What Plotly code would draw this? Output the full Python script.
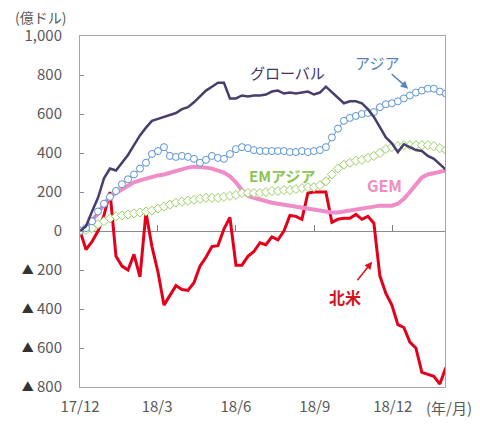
import pandas as pd
import plotly.graph_objects as go

# weekly cumulative flows since 17/12 (億ドル)
weeks = pd.date_range('2017-12-01', periods=62, freq='7D')

global_flow = [0, 25, 100, 170, 270, 320, 310, 350, 390, 440,
               490, 530, 565, 575, 585, 595, 605, 625, 635, 660,
               690, 720, 740, 760, 760, 680, 680, 695, 690, 695,
               695, 700, 715, 720, 705, 710, 705, 710, 715, 700,
               710, 740, 710, 680, 655, 665, 665, 655, 625, 585,
               530, 480, 450, 405, 445, 430, 415, 410, 385, 370,
               345, 315]
asia = [0, 15, 50, 100, 140, 175, 205, 240, 265, 290,
        320, 350, 395, 410, 430, 385, 380, 385, 380, 370,
        350, 365, 385, 375, 370, 395, 420, 430, 425, 415,
        410, 410, 410, 410, 410, 405, 405, 410, 405, 410,
        415, 430, 480, 525, 565, 580, 590, 600, 605, 610,
        635, 650, 655, 665, 680, 695, 710, 720, 730, 730,
        715, 705]
em_asia = [0, 5, 15, 35, 50, 65, 75, 80, 85, 90,
           95, 100, 105, 115, 125, 135, 145, 150, 155, 160,
           165, 170, 170, 170, 175, 180, 185, 195, 195, 195,
           195, 200, 205, 205, 210, 210, 215, 220, 225, 225,
           235, 255, 290, 320, 340, 350, 360, 365, 375, 385,
           400, 420, 430, 435, 440, 440, 440, 440, 440, 435,
           425, 415]
gem = [0, 20, 55, 90, 140, 175, 195, 215, 235, 250,
       260, 270, 280, 285, 290, 300, 305, 315, 325, 330,
       330, 325, 320, 310, 300, 280, 250, 210, 180, 170,
       160, 150, 145, 140, 135, 130, 125, 120, 120, 115,
       110, 105, 95, 95, 100, 110, 115, 120, 120, 125,
       130, 130, 130, 140, 165, 200, 240, 275, 290, 295,
       305, 310]
north_america = [0, -95, -55, 0, 80, 200, -130, -180, -200, -120,
                 -235, 95, -80, -210, -380, -330, -280, -300, -305, -265,
                 -180, -135, -80, -75, 10, 70, -175, -175, -130, -105,
                 -60, -70, -30, -45, 0, 80, 75, 60, 195, 200,
                 200, 200, 45, 60, 65, 65, 85, 60, 75, 40,
                 -230, -320, -380, -480, -495, -570, -600, -725, -735, -745,
                 -785, -700]

x_tickvals = ['2017-12-01', '2018-03-01', '2018-06-01', '2018-09-01', '2018-12-01']
x_ticktext = ['17/12', '18/3', '18/6', '18/9', '18/12']
y_tickvals = [1000, 800, 600, 400, 200, 0, -200, -400, -600, -800]
y_ticktext = ['1,000', '800', '600', '400', '200', '0',
              '<span style="font-size:12px;color:#333333">▲</span> 200',
              '<span style="font-size:12px;color:#333333">▲</span> 400',
              '<span style="font-size:12px;color:#333333">▲</span> 600',
              '<span style="font-size:12px;color:#333333">▲</span> 800']

FONT = 'Noto Sans CJK JP'
GRAY = '#595959'
x_range = ['2017-12-01', '2019-01-31']

fig = go.Figure()
fig.add_trace(go.Scatter(x=weeks, y=north_america, mode='lines',
                         line=dict(color='#E3001B', width=3)))
fig.add_trace(go.Scatter(x=weeks, y=gem, mode='lines',
                         line=dict(color='#F08CC8', width=4)))
fig.add_trace(go.Scatter(x=weeks, y=em_asia, mode='lines+markers',
                         line=dict(color='#9BCF63', width=1),
                         marker=dict(symbol='diamond', size=7, color='white',
                                     line=dict(color='#9BCF63', width=1))))
fig.add_trace(go.Scatter(x=weeks, y=asia, mode='lines+markers',
                         line=dict(color='#5B93CF', width=1),
                         marker=dict(symbol='circle', size=7, color='white',
                                     line=dict(color='#5B93CF', width=1))))
fig.add_trace(go.Scatter(x=weeks, y=global_flow, mode='lines',
                         line=dict(color='#483D6B', width=2.5)))
# hidden trace so the zero-line tick axis gets drawn
fig.add_trace(go.Scatter(x=weeks, y=north_america, xaxis='x2', mode='lines',
                         line=dict(width=0), opacity=0, hoverinfo='skip'))

# page body has an 8px margin, so the figure is shrunk by that much
fig.update_layout(
    width=472, height=419,
    margin=dict(l=72, r=35, t=28, b=40),
    paper_bgcolor='white', plot_bgcolor='white',
    showlegend=False,
    font=dict(family=FONT, color=GRAY),
    xaxis=dict(type='date', range=x_range, tickvals=x_tickvals, ticktext=x_ticktext,
               showgrid=False, zeroline=False, showline=True, mirror=True,
               linecolor='#A6A6A6', linewidth=1, ticks='', automargin=False,
               ticklabelstandoff=6, tickfont=dict(size=15, color=GRAY)),
    xaxis2=dict(type='date', range=x_range, overlaying='x', anchor='free',
                position=800 / 1800, side='top', tickvals=x_tickvals[1:],
                ticks='outside', ticklen=6, tickcolor='#7F7F7F', tickwidth=1,
                automargin=False,
                showticklabels=False, showgrid=False, showline=False, zeroline=False),
    yaxis=dict(range=[-800, 1000], tickvals=y_tickvals, ticktext=y_ticktext,
               showgrid=False, zeroline=True, zerolinecolor='#8C8C8C', zerolinewidth=1,
               showline=True, mirror=True, linecolor='#A6A6A6', linewidth=1,
               ticks='inside', ticklen=4, tickcolor='#8C8C8C', automargin=False,
               ticklabelstandoff=14, tickfont=dict(size=15, color=GRAY)),
)

annotations = [
    dict(x='2018-07-31', y=811, text='グローバル', font=dict(size=15, color='#3F3566')),
    dict(x='2018-11-13', y=862, text='アジア', font=dict(size=15, color='#5683BF')),
    dict(x='2018-07-25', y=286, text='<b>EMアジア</b>', font=dict(size=15, color='#8DC456')),
    dict(x='2018-11-21', y=235, text='<b>GEM</b>', font=dict(size=16, color='#F08CC0')),
    dict(x='2018-10-06', y=-337, text='<b>北米</b>', font=dict(size=16, color='#D7141E')),
]
for a in annotations:
    fig.add_annotation(showarrow=False, xref='x', yref='y', **a)

fig.add_annotation(x='2018-12-19', y=730, text='', showarrow=True, axref='pixel', ayref='pixel',
                   ax=-18, ay=-16, arrowhead=2, arrowsize=1, arrowwidth=1.5,
                   arrowcolor='#5683BF')
fig.add_annotation(x='2018-11-07', y=-158, text='', showarrow=True, axref='pixel', ayref='pixel',
                   ax=-16, ay=20, arrowhead=2, arrowsize=1, arrowwidth=1.5,
                   arrowcolor='#D7141E')

fig.add_annotation(x=(40 - 80) / 365, y=(387 - 17) / 351, xref='paper', yref='paper',
                   xanchor='center', yanchor='middle',
                   text='(億ドル)', showarrow=False, font=dict(size=14, color=GRAY))
fig.add_annotation(x=(449 - 80) / 365, y=(387 - 407) / 351, xref='paper', yref='paper',
                   xanchor='center', yanchor='middle',
                   text='(年/月)', showarrow=False, font=dict(size=15, color=GRAY))

fig.write_html('out.html')
